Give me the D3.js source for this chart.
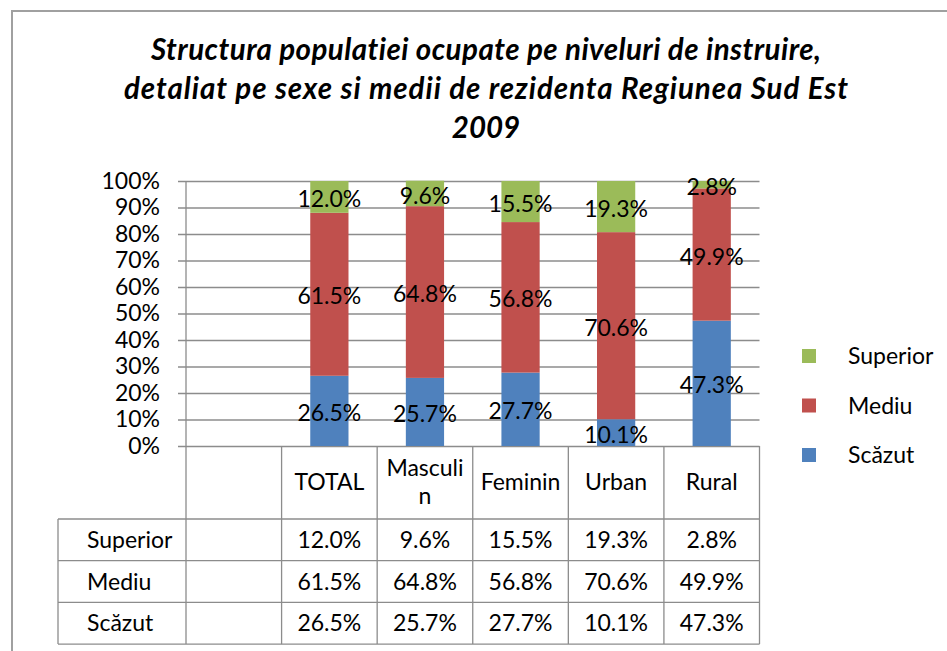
<!DOCTYPE html>
<html>
<head>
<meta charset="utf-8">
<script src="https://cdn.jsdelivr.net/npm/d3@7"></script>
<style>
	html, body { margin: 0; padding: 0; background: #fff; }
	svg { display: block; font-family: Lato, "Open Sans", sans-serif; font-variant-ligatures: none; }
</style>
</head>
<body>
<svg width="947" height="651"></svg>
<script>
// data
const titleLines = [
	"Structura populatiei ocupate pe niveluri de instruire,",
	"detaliat pe sexe si medii de rezidenta Regiunea Sud Est",
	"2009"
];
const titleWidths = [670, 724, null];
const categories = ["TOTAL", "Masculin", "Feminin", "Urban", "Rural"];
const headerLabels = [["TOTAL"], ["Masculi", "n"], ["Feminin"], ["Urban"], ["Rural"]];
const seriesNames = ["Superior", "Mediu", "Scăzut"];
const superior = [12.0, 9.6, 15.5, 19.3, 2.8];
const mediu = [61.5, 64.8, 56.8, 70.6, 49.9];
const scazut = [26.5, 25.7, 27.7, 10.1, 47.3];
const yTicks = [0, 0.1, 0.2, 0.3, 0.4, 0.5, 0.6, 0.7, 0.8, 0.9, 1];

const colors = { "Superior": "#9bbb59", "Mediu": "#c0504d", "Scăzut": "#4f81bd" };
const lineColor = "#8c8c8c";

const table = categories.map((c, i) => ({
	cat: c,
	"Superior": superior[i] / 100,
	"Mediu": mediu[i] / 100,
	"Scăzut": scazut[i] / 100
}));

const svg = d3.select("svg");

// frame
svg.append("path")
	.attr("d", "M12,651 V11 H947")
	.attr("fill", "none")
	.attr("stroke", "#a0a0a0")
	.attr("stroke-width", 2);

// title
svg.append("g")
	.selectAll("text")
	.data(titleLines)
	.join("text")
	.attr("x", 486)
	.attr("y", (d, i) => 50 + i * 39)
	.attr("dy", "0.35em")
	.attr("text-anchor", "middle")
	.attr("font-size", 29.5)
	.attr("font-weight", "bold")
	.attr("font-style", "italic")
	.each(function(d, i) {
		if (titleWidths[i]) d3.select(this).attr("textLength", titleWidths[i]).attr("lengthAdjust", "spacing");
	})
	.text(d => d);

const plot = { left: 186, right: 759.5, top: 181, bottom: 446 };

// first slot is the empty column of the data table
const x = d3.scaleBand()
	.domain(["", ...categories])
	.range([plot.left, plot.right]);

const y = d3.scaleLinear([0, 1], [plot.bottom, plot.top]);

// gridlines + y labels
const yAxis = d3.axisLeft(y)
	.tickValues(yTicks)
	.tickFormat(d3.format(".0%"))
	.tickSizeInner(-(plot.right - 178))
	.tickSizeOuter(0)
	.tickPadding(18);

const gY = svg.append("g")
	.attr("transform", "translate(178,0)")
	.call(yAxis);
gY.select(".domain").remove();
gY.selectAll(".tick line").attr("stroke", lineColor).attr("stroke-width", 1.3);
gY.selectAll(".tick text")
	.attr("font-size", 23)
	.attr("font-family", "Lato, sans-serif")
	.attr("fill", "#000");

// stacked bars
const stack = d3.stack().keys(["Scăzut", "Mediu", "Superior"]);
const series = stack(table);
const barW = x.bandwidth() * 0.4;

const gBars = svg.append("g");
series.forEach(s => {
	gBars.append("g")
		.attr("fill", colors[s.key])
		.selectAll("rect")
		.data(s)
		.join("rect")
		.attr("x", d => x(d.data.cat) + (x.bandwidth() - barW) / 2)
		.attr("y", d => y(d[1]))
		.attr("width", barW)
		.attr("height", d => y(d[0]) - y(d[1]));
});

// data labels
const fmt = d3.format(".1%");
series.forEach(s => {
	gBars.append("g")
		.selectAll("text")
		.data(s)
		.join("text")
		.attr("x", d => x(d.data.cat) + x.bandwidth() / 2)
		.attr("y", d => (y(d[0]) + y(d[1])) / 2 + 2)
		.attr("dy", "0.35em")
		.attr("text-anchor", "middle")
		.attr("font-size", 23)
		.text(d => fmt(d[1] - d[0]));
});

// data table
const headerH = 73;
const rowH = 41.7;
const tableLeft = 58;
const rowTop = i => plot.bottom + headerH + i * rowH;
const tableBottom = rowTop(seriesNames.length);

const gT = svg.append("g")
	.attr("stroke", lineColor)
	.attr("stroke-width", 1.3);

// axis line through the table
gT.append("line")
	.attr("x1", plot.left).attr("x2", plot.left)
	.attr("y1", plot.top).attr("y2", tableBottom);

// column lines
gT.selectAll(".col")
	.data([...categories.map(c => x(c)), plot.right])
	.join("line")
	.attr("class", "col")
	.attr("x1", d => d).attr("x2", d => d)
	.attr("y1", plot.bottom).attr("y2", tableBottom);

gT.append("line")
	.attr("x1", tableLeft).attr("x2", tableLeft)
	.attr("y1", rowTop(0)).attr("y2", tableBottom);

// row lines
gT.selectAll(".row")
	.data(d3.range(seriesNames.length + 1))
	.join("line")
	.attr("class", "row")
	.attr("x1", tableLeft).attr("x2", plot.right)
	.attr("y1", d => rowTop(d)).attr("y2", d => rowTop(d));

// header labels
const gH = svg.append("g").attr("font-size", 23).attr("text-anchor", "middle");
categories.forEach((c, i) => {
	const lines = headerLabels[i];
	const cy = plot.bottom + headerH / 2;
	lines.forEach((l, j) => {
		gH.append("text")
			.attr("x", x(c) + x.bandwidth() / 2)
			.attr("y", cy + (j - (lines.length - 1) / 2) * 28 - 1)
			.attr("dy", "0.35em")
			.text(l);
	});
});

// row labels + values
const rowValues = { "Superior": superior, "Mediu": mediu, "Scăzut": scazut };
seriesNames.forEach((name, r) => {
	const cy = rowTop(r) + rowH / 2;
	svg.append("text")
		.attr("x", 87)
		.attr("y", cy)
		.attr("dy", "0.35em")
		.attr("font-size", 23)
		.text(name);

	svg.append("g")
		.selectAll("text")
		.data(rowValues[name])
		.join("text")
		.attr("x", (d, i) => x(categories[i]) + x.bandwidth() / 2)
		.attr("y", cy)
		.attr("dy", "0.35em")
		.attr("text-anchor", "middle")
		.attr("font-size", 23)
		.text(d => fmt(d / 100));
});

// legend
const legend = svg.append("g")
	.selectAll("g")
	.data(seriesNames)
	.join("g")
	.attr("transform", (d, i) => `translate(802,${356 + i * 49.5})`);

legend.append("rect")
	.attr("x", 0).attr("y", -7)
	.attr("width", 14).attr("height", 14)
	.attr("fill", d => colors[d]);

legend.append("text")
	.attr("x", 46)
	.attr("dy", "0.35em")
	.attr("font-size", 23)
	.text(d => d);
</script>
</body>
</html>
